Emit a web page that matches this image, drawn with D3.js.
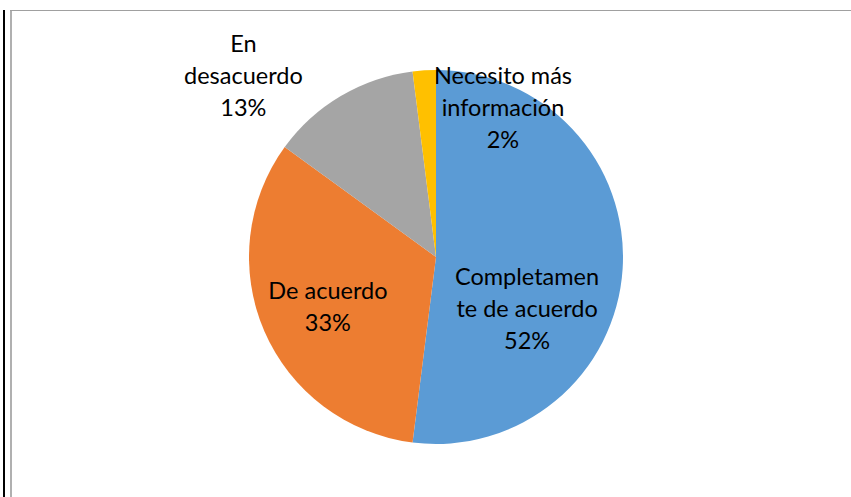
<!DOCTYPE html>
<html><head><meta charset="utf-8">
<script src="https://cdn.jsdelivr.net/npm/d3@7"></script>
<style>html,body{margin:0;padding:0;background:#fff;}</style>
</head><body>
<svg id="c" width="851" height="497"></svg>
<script>
const categories = ["Completamente de acuerdo", "De acuerdo", "En desacuerdo", "Necesito más información"];
const values = [52, 33, 13, 2];
const labelLines = [["Completamen", "te de acuerdo", "52%"], ["De acuerdo", "33%"], ["En", "desacuerdo", "13%"], ["Necesito más", "información", "2%"]];
const colors = ["#5B9BD5", "#ED7D31", "#A5A5A5", "#FFC000"];

const W = 851, H = 497;
const svg = d3.select("#c");
// frame
svg.append("rect").attr("x", 3).attr("y", 10).attr("width", 2).attr("height", H - 10).attr("fill", "#000");
svg.append("rect").attr("x", 10).attr("y", 10).attr("width", 2).attr("height", H - 10).attr("fill", "#b0b0b0");
svg.append("rect").attr("x", 10).attr("y", 10).attr("width", W - 10).attr("height", 1).attr("fill", "#a0a0a0");

const cx = 436, cy = 257, r = 187;
const g = svg.append("g").attr("transform", `translate(${cx},${cy})`);
const pie = d3.pie().sort(null).value(d => d);
const arcs = pie(values);
const arc = d3.arc().innerRadius(0).outerRadius(r);
g.selectAll("path").data(arcs).enter().append("path")
  .attr("d", arc).attr("fill", (d, i) => colors[i]);

// label placement relative to radius
const labelPos = [[0.487, 0.278], [-0.578, 0.267], [-1.03, -0.968], [0.358, -0.797]];
const lineH = 32, fs = 23.5;
arcs.forEach((d, i) => {
  const lines = labelLines[i];
  const bx = labelPos[i][0] * r, by = labelPos[i][1] * r;
  const t = g.append("text").attr("text-anchor", "middle")
    .attr("font-family", "Lato, 'Open Sans', sans-serif").attr("font-size", fs).attr("fill", "#000");
  const y0 = by - (lines.length - 1) * lineH / 2;
  lines.forEach((ln, k) => {
    t.append("tspan").attr("x", bx).attr("y", y0 + k * lineH).attr("dy", "0.35em").text(ln);
  });
});
</script>
</body></html>
